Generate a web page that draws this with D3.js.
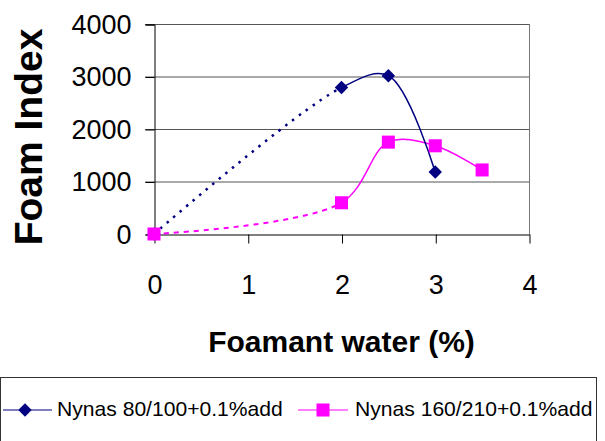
<!DOCTYPE html>
<html>
<head>
<meta charset="utf-8">
<script src="https://cdn.jsdelivr.net/npm/d3@7"></script>
<style>
  html, body { margin: 0; padding: 0; background: #fff; }
  svg { display: block; font-family: "Liberation Sans", Arial, sans-serif; }
</style>
</head>
<body>
<svg id="chart" width="605" height="441"></svg>
<script>
// Foam index versus foamant water content for two binders
const seriesNames = ["Nynas 80/100+0.1%add", "Nynas 160/210+0.1%add"];
const waterA = [0, 2, 2.5, 3];
const foamA = [0, 2790, 3015, 1180];
const waterB = [0, 2, 2.5, 3, 3.5];
const foamB = [0, 595, 1750, 1680, 1220];
const xTicks = [0, 1, 2, 3, 4];
const yTicks = [0, 1000, 2000, 3000, 4000];
const xTitle = "Foamant water (%)";
const yTitle = "Foam Index";

const navy = "#000080", magenta = "#ff00ff";
const svg = d3.select("#chart");

const plotLeft = 154, plotRight = 529, plotTop = 24, plotBottom = 234;
const x = d3.scaleLinear().domain([0, 4]).range([plotLeft, plotRight]);
const y = d3.scaleLinear().domain([0, 4000]).range([plotBottom, plotTop]);

// horizontal gridlines (extend past the axis as tick marks)
svg.append("g").selectAll("line").data(yTicks.slice(1)).join("line")
  .attr("x1", plotLeft - 9).attr("x2", plotRight)
  .attr("y1", d => y(d) + 0.5).attr("y2", d => y(d) + 0.5)
  .attr("stroke", "#555").attr("stroke-width", 1);

// right frame edge
svg.append("line")
  .attr("x1", plotRight + 0.5).attr("x2", plotRight + 0.5)
  .attr("y1", plotTop).attr("y2", plotBottom)
  .attr("stroke", "#777");

// y axis
const yAxis = d3.axisLeft(y).tickValues(yTicks).tickSize(9).tickPadding(14)
  .tickFormat(d3.format("d"));
const gy = svg.append("g").attr("transform", `translate(${plotLeft + 0.5},0.5)`).call(yAxis);
gy.select(".domain").attr("stroke", "#000");
gy.selectAll(".tick line").attr("stroke", "#000");
gy.selectAll(".tick text").attr("font-size", 27).attr("fill", "#000")
  .attr("font-family", "Liberation Sans, Arial, sans-serif").attr("dy", "0.33em");

// x axis
const xAxis = d3.axisBottom(x).tickValues(xTicks).tickSizeInner(9).tickSizeOuter(0)
  .tickPadding(50).tickFormat(d3.format("d"));
const gx = svg.append("g").attr("transform", `translate(0.5,${plotBottom + 0.5})`).call(xAxis);
gx.select(".domain").attr("stroke", "#000");
gx.selectAll(".tick line").attr("stroke", "#000");
gx.selectAll(".tick text").attr("font-size", 27).attr("fill", "#000")
  .attr("font-family", "Liberation Sans, Arial, sans-serif").attr("dy", "0");

// axis titles
svg.append("text").attr("x", (plotLeft + plotRight) / 2).attr("y", 352)
  .attr("text-anchor", "middle").attr("font-size", 30).attr("font-weight", "bold")
  .text(xTitle);
svg.append("text").attr("transform", "translate(42,137) rotate(-90)")
  .attr("text-anchor", "middle").attr("font-size", 39).attr("font-weight", "bold")
  .text(yTitle);

// smoothed series lines: dotted up to 2 %, solid beyond
const defs = svg.append("defs");
defs.append("clipPath").attr("id", "clipLow").append("rect")
  .attr("x", 0).attr("y", 0).attr("width", x(2)).attr("height", 441);
defs.append("clipPath").attr("id", "clipHigh").append("rect")
  .attr("x", x(2)).attr("y", 0).attr("width", 605 - x(2)).attr("height", 441);

const line = d3.line().x(d => x(d[0])).y(d => y(d[1])).curve(d3.curveCatmullRom.alpha(0.5));

const seriesA = waterA.map((w, i) => [w, foamA[i]]);
const seriesB = waterB.map((w, i) => [w, foamB[i]]);

function drawSeries(data, color, dash, dashWidth) {
  svg.append("path").datum(data).attr("d", line)
    .attr("fill", "none").attr("stroke", color).attr("stroke-width", dashWidth)
    .attr("stroke-dasharray", dash).attr("clip-path", "url(#clipLow)");
  svg.append("path").datum(data).attr("d", line)
    .attr("fill", "none").attr("stroke", color).attr("stroke-width", 1.5)
    .attr("clip-path", "url(#clipHigh)");
}
drawSeries(seriesB, magenta, "5,5", 2);
drawSeries(seriesA, navy, "2.5,6", 2.5);

const diamond = d3.symbol().type(d3.symbolSquare).size(90);
const square = d3.symbol().type(d3.symbolSquare).size(170);

svg.append("g").selectAll("path").data(seriesA).join("path")
  .attr("d", diamond)
  .attr("transform", d => `translate(${x(d[0])},${y(d[1])}) rotate(45)`)
  .attr("fill", navy);

svg.append("g").selectAll("path").data(seriesB).join("path")
  .attr("transform", d => `translate(${x(d[0])},${y(d[1])})`)
  .attr("d", square).attr("fill", magenta);

// legend
const lg = svg.append("g");
lg.append("rect").attr("x", 0.5).attr("y", 377.5).attr("width", 596).attr("height", 80)
  .attr("fill", "#fff").attr("stroke", "#333");
const ly = 410;
lg.append("line").attr("x1", 3).attr("x2", 52).attr("y1", ly).attr("y2", ly)
  .attr("stroke", navy).attr("stroke-width", 1.2);
lg.append("path").attr("d", diamond)
  .attr("transform", `translate(25,${ly}) rotate(45)`).attr("fill", navy);
lg.append("text").attr("x", 57).attr("y", 416).attr("font-size", 21.1).text(seriesNames[0]);
lg.append("line").attr("x1", 298).attr("x2", 348).attr("y1", ly).attr("y2", ly)
  .attr("stroke", magenta).attr("stroke-width", 1.2);
lg.append("path").attr("d", square).attr("transform", `translate(323,${ly})`).attr("fill", magenta);
lg.append("text").attr("x", 355).attr("y", 416).attr("font-size", 21.1).text(seriesNames[1]);
</script>
</body>
</html>
